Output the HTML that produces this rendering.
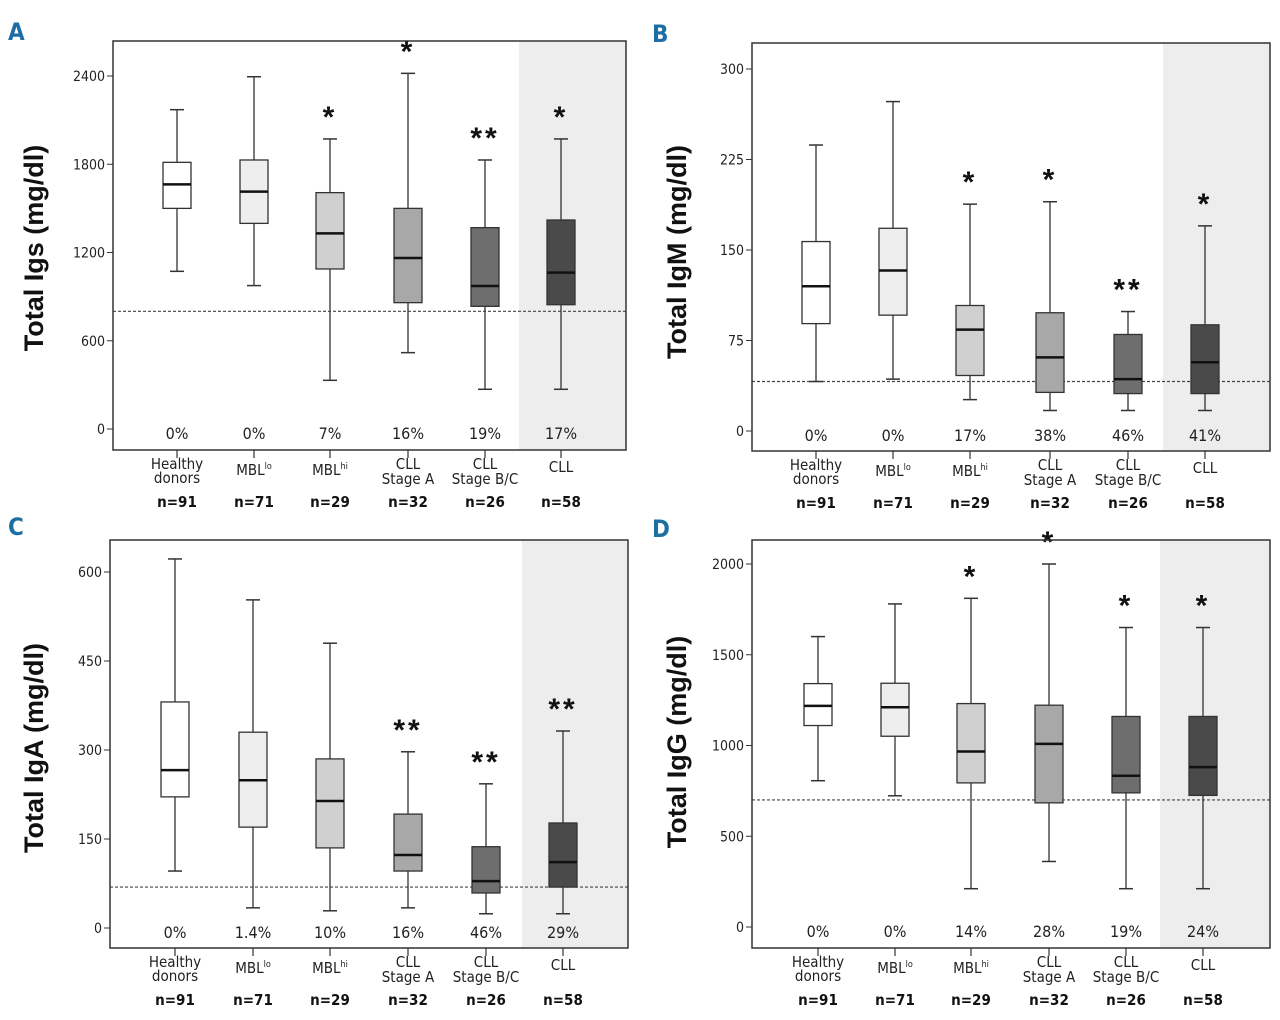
<!DOCTYPE html>
<html><head><meta charset="utf-8"><style>
body{margin:0;background:#fff;}
svg{display:block;font-family:"Liberation Sans",sans-serif;}
.lbl{font-family:"DejaVu Sans Condensed","Liberation Sans Narrow","Liberation Sans",sans-serif;}
</style></head><body>
<svg id="fig" width="1280" height="1020" viewBox="0 0 1280 1020"></svg>
<script>
// ---- data ----
const categories = ["Healthy donors","MBLlo","MBLhi","CLL Stage A","CLL Stage B/C","CLL"];
const counts = ["n=91","n=71","n=29","n=32","n=26","n=58"];
const fills = ["#ffffff","#eeeeee","#d0d0d0","#a8a8a8","#6e6e6e","#4a4a4a"];
// each: [low, q1, median, q3, high]
const igsBoxes = [[1072,1500,1663,1813,2171],[975,1398,1614,1829,2395],[331,1088,1330,1607,1972],[519,859,1163,1500,2418],[270,834,972,1369,1829],[270,845,1063,1421,1972]];
const igsPct = ["0%","0%","7%","16%","19%","17%"];
const igsStars = ["","","*","*","**","*"];
const igsTicks = [0,600,1200,1800,2400];
const igsThreshold = 800;
const igmBoxes = [[41,89,120,157,237],[43,96,133,168,273],[26,46,84,104,188],[17,32,61,98,190],[17,31,43,80,99],[17,31,57,88,170]];
const igmPct = ["0%","0%","17%","38%","46%","41%"];
const igmStars = ["","","*","*","**","*"];
const igmTicks = [0,75,150,225,300];
const igmThreshold = 41;
const igaBoxes = [[96,221,266,381,622],[34,170,249,330,553],[29,135,214,285,480],[34,96,123,192,297],[24,59,79,137,243],[24,69,111,177,332]];
const igaPct = ["0%","1.4%","10%","16%","46%","29%"];
const igaStars = ["","","","**","**","**"];
const igaTicks = [0,150,300,450,600];
const igaThreshold = 69;
const iggBoxes = [[806,1110,1218,1341,1600],[723,1051,1211,1343,1780],[211,794,967,1231,1811],[361,684,1009,1222,2000],[211,739,833,1160,1650],[211,725,881,1160,1650]];
const iggPct = ["0%","0%","14%","28%","19%","24%"];
const iggStars = ["","","*","*","*","*"];
const iggTicks = [0,500,1000,1500,2000];
const iggThreshold = 700;

const panels = [
 {id:"a",letter:"A",lx:8,ly:40,title:"Total Igs (mg/dl)",fx:113,fy:41,fw:513,fh:409,y0:429,yT:76,shade:519,cx:[177,254,330,408,485,561],boxes:igsBoxes,pct:igsPct,stars:igsStars,ticks:igsTicks,thr:igsThreshold,ty:248},
 {id:"b",letter:"B",lx:652,ly:42,title:"Total IgM (mg/dl)",fx:752,fy:43,fw:518,fh:408,y0:431,yT:69,shade:1163,cx:[816,893,970,1050,1128,1205],boxes:igmBoxes,pct:igmPct,stars:igmStars,ticks:igmTicks,thr:igmThreshold,ty:252},
 {id:"c",letter:"C",lx:8,ly:535,title:"Total IgA (mg/dl)",fx:110,fy:540,fw:518,fh:408,y0:928,yT:572,shade:522,cx:[175,253,330,408,486,563],boxes:igaBoxes,pct:igaPct,stars:igaStars,ticks:igaTicks,thr:igaThreshold,ty:748},
 {id:"d",letter:"D",lx:652,ly:537,title:"Total IgG (mg/dl)",fx:752,fy:540,fw:518,fh:408,y0:927,yT:564,shade:1160,cx:[818,895,971,1049,1126,1203],boxes:iggBoxes,pct:iggPct,stars:iggStars,ticks:iggTicks,thr:iggThreshold,ty:742}
];
const NS="http://www.w3.org/2000/svg";
const svg=document.getElementById("fig");
function mk(tag,attrs,parent,text){const e=document.createElementNS(NS,tag);for(const k in attrs)e.setAttribute(k,attrs[k]);if(text!==undefined)e.textContent=text;(parent||svg).appendChild(e);return e;}
panels.forEach(p=>{
 const g=mk("g",{});
 
 
 const tmax=p.ticks[p.ticks.length-1];
 const y=v=>p.y0-(v/tmax)*(p.y0-p.yT);
 const sh=mk("rect",{x:p.shade,y:p.fy,width:p.fx+p.fw-p.shade,height:p.fh,fill:"#ededed"},g);
 
 
 const th=mk("line",{x1:p.fx,x2:p.fx+p.fw,y1:y(p.thr),y2:y(p.thr),stroke:"#444","stroke-width":1.2,"stroke-dasharray":"3,2"},g);
 
 
 p.ticks.forEach(t=>{
  mk("line",{x1:p.fx-6,x2:p.fx,y1:y(t),y2:y(t),stroke:"#333","stroke-width":1},g);
  const tl=mk("text",{x:p.fx-8,y:y(t)+5,"text-anchor":"end","font-size":14,fill:"#222",class:"lbl"},g,String(t));
  
  
 });
 p.boxes.forEach((b,i)=>{
  const x=p.cx[i],w=14;
  const bg=mk("g",{},g);
  
  
  mk("line",{x1:x,x2:x,y1:y(b[0]),y2:y(b[4]),stroke:"#333","stroke-width":1.3},bg);
  mk("line",{x1:x-7,x2:x+7,y1:y(b[0]),y2:y(b[0]),stroke:"#333","stroke-width":1.5},bg);
  mk("line",{x1:x-7,x2:x+7,y1:y(b[4]),y2:y(b[4]),stroke:"#333","stroke-width":1.5},bg);
  mk("rect",{x:x-w,y:y(b[3]),width:2*w,height:y(b[1])-y(b[3]),fill:fills[i],stroke:"#333","stroke-width":1.3},bg);
  mk("line",{x1:x-w,x2:x+w,y1:y(b[2]),y2:y(b[2]),stroke:"#111","stroke-width":2.5},bg);
  if(p.stars[i]){const s=mk("text",{x:x,y:y(b[4])-12,"text-anchor":"middle","font-size":30,"font-weight":"bold","letter-spacing":"3",fill:"#111"},g,p.stars[i]);
   
   }
  const pt=mk("text",{x:x,y:p.y0+10,"text-anchor":"middle","font-size":16,fill:"#222",class:"lbl"},g,p.pct[i]);
  
  
  mk("line",{x1:x,x2:x,y1:p.fy+p.fh,y2:p.fy+p.fh+8,stroke:"#333","stroke-width":1.2},g);
  const by=p.fy+p.fh;
  const c=categories[i];
  const xl=mk("text",{x:x,"text-anchor":"middle","font-size":15,fill:"#222",class:"lbl"},g);
  
  
  if(c.startsWith("MBL")){mk("tspan",{x:x,y:by+25},xl,"MBL");mk("tspan",{"font-size":9,dy:-6},xl,c.slice(3));}
  else if(c==="Healthy donors"){mk("tspan",{x:x,y:by+19},xl,"Healthy");mk("tspan",{x:x,y:by+33},xl,"donors");}
  else if(c==="CLL"){mk("tspan",{x:x,y:by+22},xl,"CLL");}
  else {mk("tspan",{x:x,y:by+19},xl,"CLL");mk("tspan",{x:x,y:by+34},xl,c.slice(4));}
  const nl=mk("text",{x:x,y:by+57,"text-anchor":"middle","font-size":15,"font-weight":"bold",fill:"#111",class:"lbl"},g,counts[i]);
  
  
 });
 const fr=mk("rect",{x:p.fx,y:p.fy,width:p.fw,height:p.fh,fill:"none",stroke:"#333","stroke-width":1.5},g);
 
 
 const yt=mk("text",{x:0,y:0,"text-anchor":"middle","font-size":27,"font-weight":"bold",fill:"#111"},g,p.title);
 if(p.id==="b"||p.id==="d")yt.setAttribute("transform","translate("+(p.fx-66)+","+p.ty+") rotate(-90)");
 else yt.setAttribute("transform","translate(43,"+p.ty+") rotate(-90)");
 
 
 const pl=mk("text",{x:p.lx,y:p.ly,"font-size":24,"font-weight":"bold",fill:"#1d6fa3",class:"lbl"},g,p.letter);
 
 
});
</script>
</body></html>
